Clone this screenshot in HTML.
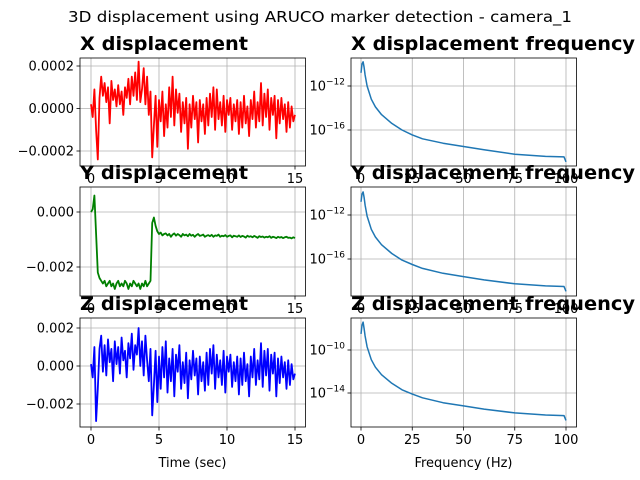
<!DOCTYPE html>
<html><head><meta charset="utf-8"><style>body{margin:0;background:#fff}svg{display:block}text{font-family:"DejaVu Sans","Liberation Sans",sans-serif}</style></head>
<body>
<svg id="fig" width="640" height="480" xmlns="http://www.w3.org/2000/svg">
<rect width="640" height="480" fill="#fff"/>
<text x="320" y="22" text-anchor="middle" font-size="15" textLength="504" lengthAdjust="spacingAndGlyphs">3D displacement using ARUCO marker detection - camera_1</text>
</svg>
<script>
const timeStep=0.125;
const xDisp=[0.2,-0.4,0.9,-1.0,-2.4,0.5,1.5,0.6,1.2,0.3,1.0,-0.7,1.3,0.4,0.9,0.1,1.1,0.2,0.8,-0.3,1.0,0.5,1.4,0.2,1.5,0.6,1.7,0.4,2.2,0.3,0.9,1.9,0.2,1.5,-0.3,0.8,
-2.3,-0.8,0.6,-1.8,0.4,-0.6,0.8,-1.3,0.2,-0.9,1.0,-0.4,1.5,-0.8,0.9,-0.2,0.7,-1.1,0.3,-0.7,0.5,-1.9,0.2,-0.9,0.6,-0.5,0.3,-1.6,0.4,-0.6,0.2,-1.2,0.5,-0.8,0.7,-0.4,1.0,-1.0,0.9,-0.5,0.3,-0.8,0.6,-1.1,0.4,-0.3,0.5,-1.0,0.2,-0.6,0.4,-1.2,0.3,-0.9,0.6,-0.7,0.1,-1.3,0.4,-0.5,0.8,-0.9,0.3,-0.6,1.2,-0.8,0.7,-0.4,0.9,-1.0,0.5,-0.3,0.6,-1.4,0.4,-0.7,0.5,-0.5,0.2,-1.1,0.3,-0.9,0.1,-0.6,-0.3];
const yDisp=[0,0.1,0.6,-0.8,-2.2,-2.4,-2.5,-2.6,-2.5,-2.7,-2.6,-2.5,-2.7,-2.6,-2.8,-2.6,-2.5,-2.7,-2.6,-2.7,-2.5,-2.6,-2.8,-2.6,-2.7,-2.5,-2.6,-2.7,-2.6,-2.8,-2.6,-2.7,-2.5,-2.7,-2.6,-2.5,
-0.4,-0.2,-0.5,-0.7,-0.8,-0.75,-0.85,-0.8,-0.78,-0.85,-0.8,-0.9,-0.82,-0.78,-0.86,-0.8,-0.84,-0.9,-0.8,-0.85,-0.82,-0.88,-0.8,-0.86,-0.83,-0.9,-0.84,-0.8,-0.87,-0.85,-0.82,-0.9,-0.86,-0.84,-0.88,-0.83,-0.9,-0.85,-0.87,-0.82,-0.9,-0.86,-0.88,-0.84,-0.9,-0.87,-0.85,-0.92,-0.86,-0.88,-0.9,-0.85,-0.91,-0.87,-0.89,-0.93,-0.86,-0.9,-0.88,-0.92,-0.87,-0.9,-0.94,-0.88,-0.91,-0.89,-0.93,-0.9,-0.92,-0.88,-0.94,-0.9,-0.92,-0.95,-0.9,-0.93,-0.91,-0.95,-0.92,-0.9,-0.94,-0.93,-0.96,-0.92,-0.95];
const zDisp=[0.1,-0.6,1.0,-2.9,-1.2,0.9,1.6,-0.3,1.1,-0.5,1.4,0.2,0.9,-0.8,1.3,0.1,1.0,-0.4,1.5,0.3,0.8,-0.6,1.2,0.4,1.7,-0.2,1.1,0.6,2.0,0.0,1.3,-0.5,1.6,0.3,-0.8,0.9,
-2.6,-1.0,0.8,-1.9,0.5,-1.2,1.0,-0.6,1.3,-1.4,0.4,-0.8,0.9,-1.6,0.6,-0.3,1.1,-1.2,0.2,-0.9,0.7,-1.7,0.3,-0.7,0.8,-0.5,0.4,-1.5,0.5,-0.8,0.2,-1.3,0.7,-1.0,0.9,-0.4,1.1,-1.2,0.6,-0.6,0.3,-1.0,0.8,-1.4,0.5,-0.3,0.6,-1.1,0.2,-0.8,0.5,-1.5,0.4,-1.0,0.7,-0.8,0.1,-1.6,0.5,-0.6,0.9,-1.0,0.3,-0.7,1.2,-1.1,0.8,-0.5,0.9,-1.3,0.6,-0.4,0.7,-1.6,0.4,-0.9,0.5,-0.6,0.2,-1.2,0.3,-1.0,0.1,-0.7,-0.4];
const freqs=[0,0.5,1,1.5,2,3,5,7,10,15,20,25,30,40,50,60,75,90,99,100];
const xFreqLog=[-10.8,-10.0,-9.8,-10.3,-11.0,-12.0,-13.2,-13.9,-14.6,-15.4,-16.0,-16.45,-16.8,-17.2,-17.5,-17.8,-18.2,-18.4,-18.45,-18.9];
const yFreqLog=[-10.8,-10.1,-9.9,-10.4,-11.1,-12.1,-13.3,-14.0,-14.7,-15.5,-16.1,-16.5,-16.85,-17.3,-17.6,-17.9,-18.25,-18.45,-18.5,-18.95];
const zFreqLog=[-8.5,-7.7,-7.4,-8.0,-8.7,-9.7,-10.9,-11.6,-12.3,-13.1,-13.7,-14.1,-14.45,-14.9,-15.2,-15.5,-15.85,-16.05,-16.1,-16.55];
const timeTicks=[0,5,10,15];
const freqTicks=[0,25,50,75,100];

const svg=document.getElementById('fig');
const NS='http://www.w3.org/2000/svg';
function mk(tag,attrs,parent){const e=document.createElementNS(NS,tag);for(const k in attrs)e.setAttribute(k,attrs[k]);(parent||svg).appendChild(e);return e;}
const L=[80,305.5],R=[351,576.5];
const rows=[[58,166],[187,296],[318,427]];
let clipN=0;
function panel(name,xr,yr,xs,ys,xticks,yticks,ylabelFn,title,tlen){
  const g=mk('g',{});
  
  
  const id='c'+(clipN++);
  const cp=mk('clipPath',{id:id},g);mk('rect',{x:xr[0],y:yr[0],width:xr[1]-xr[0],height:yr[1]-yr[0]},cp);
  xticks.forEach(v=>{const x=xs(v);
    const gl=mk('line',{x1:x,x2:x,y1:yr[0],y2:yr[1],stroke:'#b0b0b0','stroke-width':0.8},g);
    
    mk('line',{x1:x,x2:x,y1:yr[1],y2:yr[1]+3.5,stroke:'#000','stroke-width':0.8},g);
    const t=mk('text',{x:x,y:yr[1]+17,'text-anchor':'middle','font-size':13},g);t.textContent=v;
    });
  yticks.forEach(v=>{const y=ys(v);
    const gl=mk('line',{x1:xr[0],x2:xr[1],y1:y,y2:y,stroke:'#b0b0b0','stroke-width':0.8},g);
    
    mk('line',{x1:xr[0]-3.5,x2:xr[0],y1:y,y2:y,stroke:'#000','stroke-width':0.8},g);
    const t=ylabelFn(v,xr[0]-6,y+4.5,g);
    });
  const tt=mk('text',{x:xr[0],y:yr[0]-8,'font-size':19,'font-weight':'bold',textLength:tlen,lengthAdjust:'spacingAndGlyphs'},g);tt.textContent=title;
  
  return {g,id};
}
function fmt(d){return function(v,x,y,g){const t=mk('text',{x:x,y:y,'text-anchor':'end','font-size':13},g);t.textContent=(v<0?'\u2212':'')+Math.abs(v).toFixed(d);return t;}}
function logTick(v,x,y,g){const t=mk('text',{x:x,y:y,'text-anchor':'end','font-size':13},g);
  const a=mk('tspan',{},t);a.textContent='10';const b=mk('tspan',{dy:-6,'font-size':9},t);b.textContent='\u2212'+Math.abs(v);return t;}
function lin(d0,d1,r0,r1){return v=>r0+(v-d0)/(d1-d0)*(r1-r0);}
const txs=lin(0,15,91,295), fxs=lin(0,100,361,566);
const tData=[[xDisp,1e-4,[0.0002,0,-0.0002],fmt(4),'red','X displacement',lin(0.0002,-0.0002,66,151)],
 [yDisp,1e-3,[0,-0.002],fmt(3),'green','Y displacement',lin(0,-0.002,212,267)],
 [zDisp,1e-3,[0.002,0,-0.002],fmt(3),'blue','Z displacement',lin(0.002,-0.002,328,404)]];
const fData=[[xFreqLog,[-12,-16],'X displacement frequency',lin(-12,-16,86,130)],
 [yFreqLog,[-12,-16],'Y displacement frequency',lin(-12,-16,215,259)],
 [zFreqLog,[-10,-14],'Z displacement frequency',lin(-10,-14,350,393)]];
tData.forEach((d,i)=>{
  const [vals,sc,yt,lf,col,title,ys]=d;
  const p=panel('time-panel-'+(i+1),L,rows[i],txs,ys,timeTicks,yt,lf,title,168);
  const pts=vals.map((v,j)=>txs(j*timeStep).toFixed(1)+','+ys(v*sc).toFixed(1)).join(' ');
  const pl=mk('polyline',{points:pts,fill:'none',stroke:col,'stroke-width':1.8,'stroke-linejoin':'round','clip-path':'url(#'+p.id+')'},p.g);
  
  
  mk('rect',{x:L[0],y:rows[i][0],width:L[1]-L[0],height:rows[i][1]-rows[i][0],fill:'none',stroke:'#000','stroke-width':0.8},p.g);
});
fData.forEach((d,i)=>{
  const [vals,yt,title,ys]=d;
  const p=panel('freq-panel-'+(i+1),R,rows[i],fxs,ys,freqTicks,yt,logTick,title,284);
  const pts=vals.map((v,j)=>fxs(freqs[j]).toFixed(1)+','+ys(v).toFixed(1)).join(' ');
  const pl=mk('polyline',{points:pts,fill:'none',stroke:'#1f77b4','stroke-width':1.5,'stroke-linejoin':'round','clip-path':'url(#'+p.id+')'},p.g);
  
  
  mk('rect',{x:R[0],y:rows[i][0],width:R[1]-R[0],height:rows[i][1]-rows[i][0],fill:'none',stroke:'#000','stroke-width':0.8},p.g);
});
const xl1=mk('text',{x:192.5,y:467,'text-anchor':'middle','font-size':13});xl1.textContent='Time (sec)';


const xl2=mk('text',{x:463.5,y:467,'text-anchor':'middle','font-size':13});xl2.textContent='Frequency (Hz)';


</script>
</body></html>
